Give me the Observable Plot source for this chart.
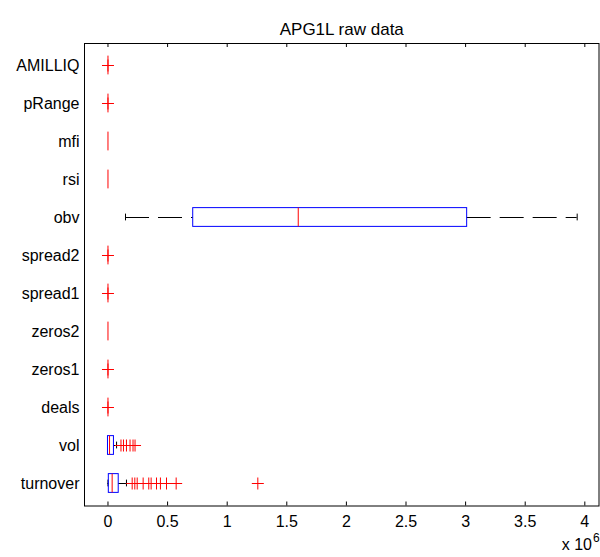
<!DOCTYPE html>
<html><head><meta charset="utf-8">
<script src="https://cdn.jsdelivr.net/npm/d3@7"></script>
<script src="https://cdn.jsdelivr.net/npm/@observablehq/plot@0.6"></script>
<style>body{margin:0;background:#fff}</style>
</head><body><div id="chart"></div>
<script>
const title = "APG1L raw data";
const categories = ["AMILLIQ","pRange","mfi","rsi","obv","spread2","spread1","zeros2","zeros1","deals","vol","turnover"];
const whiskerLow  = [0,0,0,0,0.147e6,0,0,0,0,0,0,0];
const q1          = [0,0,0,0,0.715e6,0,0,0,0,0,0,0.007e6];
const median      = [0,0,0,0,1.596e6,0,0,0,0,0,0.013e6,0.035e6];
const q3          = [0,0,0,0,3.013e6,0,0,0,0,0,0.050e6,0.090e6];
const whiskerHigh = [0,0,0,0,3.936e6,0,0,0,0,0,0.072e6,0.155e6];
const outlierCategory = ["AMILLIQ","pRange","spread2","spread1","zeros1","deals",
  "vol","vol","vol","vol","vol","vol",
  "turnover","turnover","turnover","turnover","turnover","turnover","turnover","turnover","turnover","turnover","turnover"];
const outlierValue = [0,0,0,0,0,0,
  0.109e6,0.130e6,0.155e6,0.185e6,0.210e6,0.227e6,
  0.203e6,0.225e6,0.245e6,0.295e6,0.342e6,0.362e6,0.407e6,0.440e6,0.491e6,0.572e6,1.257e6];
const xTicks = [0,0.5e6,1e6,1.5e6,2e6,2.5e6,3e6,3.5e6,4e6];
const exponentLabel = "x 10";
const exponentValue = "6";

const rows = categories.map((c,i)=>({cat:c, low:whiskerLow[i], q1:q1[i], med:median[i], q3:q3[i], high:whiskerHigh[i]}));
const outliers = outlierCategory.map((c,i)=>({cat:c, v:outlierValue[i]}));

const W = 600, H = 557, mT = 43, mB = 51.5, mL = 84, mR = 1.5;
const frameH = H - mT - mB;
const bw = frameH / categories.length;
const boxInset = (bw - 19.3) / 2;
const capInset = (bw - 7.3) / 2;
const plus = {draw(ctx, size){const r = Math.sqrt(size/Math.PI); ctx.moveTo(-r,0); ctx.lineTo(r,0); ctx.moveTo(0,-r); ctx.lineTo(0,r);}};
const lowRows = rows.filter(d => d.low < d.q1);
const highRows = rows.filter(d => d.high > d.q3);

const chart = Plot.plot({
  width: W, height: H, marginTop: mT, marginBottom: mB, marginLeft: mL, marginRight: mR,
  style: {fontFamily: "'Liberation Sans', Arial, sans-serif", fontSize: "16px", color: "#000", background: "#fff"},
  x: {domain: [-0.197e6, 4.119e6], label: null},
  y: {type: "band", domain: categories, padding: 0, label: null},
  marks: [
    Plot.ruleY(lowRows, {y: "cat", x1: "low", x2: "q1", stroke: "black", strokeDasharray: "24,9"}),
    Plot.ruleY(highRows, {y: "cat", x1: "q3", x2: "high", stroke: "black", strokeDasharray: "24,9"}),
    Plot.tickX(lowRows, {y: "cat", x: "low", stroke: "black", insetTop: capInset, insetBottom: capInset}),
    Plot.tickX(highRows, {y: "cat", x: "high", stroke: "black", insetTop: capInset, insetBottom: capInset}),
    Plot.barX(rows, {y: "cat", x1: "q1", x2: "q3", fill: "none", stroke: "#0000ff", insetTop: boxInset, insetBottom: boxInset}),
    Plot.tickX(rows, {y: "cat", x: "med", stroke: "#ff0000", insetTop: boxInset, insetBottom: boxInset}),
    Plot.dot(outliers, {y: "cat", x: "v", symbol: plus, r: 6, fill: "none", stroke: "#ff0000", strokeWidth: 1}),
    Plot.tickX(xTicks, {x: d => d, stroke: "black", insetBottom: frameH - 4}),
    Plot.tickX(xTicks, {x: d => d, stroke: "black", insetTop: frameH - 4}),
    Plot.axisX({ticks: xTicks, tickSize: 0, tickPadding: 10, tickFormat: d => d / 1e6, fontSize: 16, label: null}),
    Plot.axisY({tickSize: 0, tickPadding: 5, fontSize: 16, label: null}),
    Plot.frame({stroke: "black"}),
    Plot.text([title], {text: d => d, frameAnchor: "top", dy: -21, fontSize: 17}),
    Plot.text([exponentLabel], {text: d => d, frameAnchor: "bottom-right", textAnchor: "end", dx: -7, dy: 44, fontSize: 16}),
    Plot.text([exponentValue], {text: d => d, frameAnchor: "bottom-right", textAnchor: "start", dx: -6, dy: 36, fontSize: 12})
  ]
});
document.getElementById("chart").appendChild(chart);
</script>
</body></html>
